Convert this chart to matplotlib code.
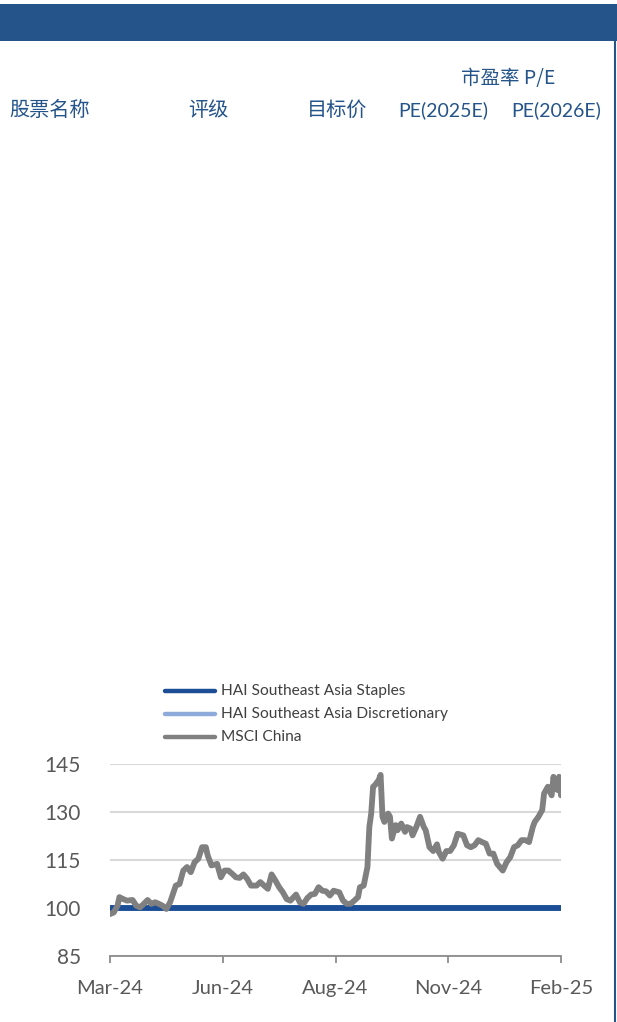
import matplotlib
matplotlib.use("Agg")
import matplotlib.pyplot as plt
from matplotlib.patches import Rectangle
from matplotlib.lines import Line2D

# 表头文字
header_cols = ["股票名称", "评级", "目标价", "PE(2025E)", "PE(2026E)"]
header_group = "市盈率 P/E"

# 走势数据（交易日序号, 指数, 起点=100）
day_index = [0, 2, 4, 5, 7, 9, 12, 14, 16, 18, 20, 22, 24, 26, 28, 30, 32, 35, 37, 39,
             41, 43, 45, 47, 49, 51, 52, 54, 57, 59, 61, 63, 65, 67, 69, 71, 73, 75, 78, 80,
             82, 84, 86, 88, 90, 92, 94, 96, 99, 101, 103, 105, 107, 109, 111, 113, 115, 117, 119, 122,
             124, 126, 128, 130, 132, 133, 135, 137, 138, 139, 140, 141, 143, 144, 145, 146, 148, 149, 150, 152,
             153, 155, 157, 158, 160, 161, 163, 165, 167, 168, 170, 172, 174, 175, 177, 179, 181, 183, 185, 188,
             190, 192, 194, 196, 198, 200, 202, 204, 206, 209, 211, 213, 215, 217, 219, 221, 223, 225, 226, 228,
             230, 231, 233, 235, 236, 237, 238, 239, 240]
msci_china = [98.1, 98.6, 100.7, 103.4, 102.8, 102.3, 102.5, 100.7, 100.2, 101.3, 102.5, 101.3, 101.8, 101.3, 100.7, 99.7, 101.8, 107.0, 107.5, 111.7,
              112.8, 111.2, 114.3, 115.4, 119.0, 119.0, 116.4, 113.3, 113.8, 109.6, 111.7, 111.7, 110.7, 109.6, 109.4, 110.5, 109.1, 107.0, 107.0, 108.1,
              107.0, 106.0, 110.5, 108.6, 106.5, 104.9, 102.8, 102.3, 104.2, 101.8, 101.3, 103.1, 104.2, 104.4, 106.5, 105.4, 105.2, 103.9, 105.4, 104.9,
              102.3, 101.3, 101.3, 102.3, 103.4, 106.5, 107.0, 112.8, 125.3, 129.5, 137.9, 138.4, 140.0, 141.6, 128.5, 126.9, 129.5, 128.5, 121.7, 125.9,
              124.3, 126.4, 123.8, 125.3, 124.8, 122.7, 125.3, 128.5, 125.3, 124.3, 119.0, 117.8, 119.9, 117.5, 115.4, 117.8, 117.8, 119.6, 123.2, 122.7,
              119.6, 119.0, 119.6, 121.2, 120.6, 120.1, 117.0, 117.0, 113.8, 111.7, 114.3, 115.9, 119.0, 119.6, 121.2, 121.2, 120.6, 125.3, 126.9, 128.5,
              130.6, 135.8, 137.9, 135.2, 141.0, 137.9, 136.9, 141.0, 135.2]
staples = [100.0] * len(day_index)
discretionary = [100.0] * len(day_index)

series_names = ["HAI Southeast Asia Staples", "HAI Southeast Asia Discretionary", "MSCI China"]
y_ticks = [85, 100, 115, 130, 145]
x_tick_pos = [0, 60, 120, 180, 240]
x_tick_labels = ["Mar-24", "Jun-24", "Aug-24", "Nov-24", "Feb-25"]

BLUE = "#24548a"
C_STAPLES = "#1c4e97"
C_DISC = "#8eaadb"
C_MSCI = "#808080"
TXT = "#595959"

W, H = 617, 1022
fig = plt.figure(figsize=(W / 100, H / 100), dpi=100)

# 顶部色条和右侧竖线
fig.add_artist(Rectangle((0, 1 - 41 / H), 1, 37 / H, transform=fig.transFigure,
                         facecolor=BLUE, edgecolor="none"))
fig.add_artist(Line2D([615 / W, 615 / W], [0, 1 - 41 / H], transform=fig.transFigure,
                      color=BLUE, lw=1.5))

cjk = ["Noto Sans CJK SC", "DejaVu Sans"]
lat = ["Lato", "DejaVu Sans"]
hy = 1 - 110 / H
fig.text(50 / W, hy, header_cols[0], family=cjk, fontsize=14.5, color=BLUE,
         ha="center", va="center")
fig.text(208 / W, hy, header_cols[1], family=cjk, fontsize=14.5, color=BLUE,
         ha="center", va="center")
fig.text(337 / W, hy, header_cols[2], family=cjk, fontsize=14.5, color=BLUE,
         ha="center", va="center")
fig.text(443 / W, hy, header_cols[3], family=lat, fontsize=14, color=BLUE,
         ha="center", va="center")
fig.text(556 / W, hy, header_cols[4], family=lat, fontsize=14, color=BLUE,
         ha="center", va="center")
fig.text(508 / W, 1 - 78 / H, header_group, family=cjk, fontsize=14, color=BLUE,
         ha="center", va="center")

# 折线图
ax = fig.add_axes([110 / W, 1 - 956 / H, 451 / W, 192 / H])
ax.plot(day_index, discretionary, color=C_DISC, lw=4.2, solid_capstyle="round", zorder=2)
ax.plot(day_index, staples, color=C_STAPLES, lw=4.2, solid_capstyle="round", zorder=3)
ax.plot(day_index, msci_china, color=C_MSCI, lw=4.2, solid_joinstyle="round",
        solid_capstyle="round", zorder=4)

ax.set_xlim(0, 240)
ax.set_ylim(85, 145)
ax.set_yticks(y_ticks)
ax.set_xticks(x_tick_pos)
ax.set_xticklabels(x_tick_labels)
for s in ["top", "right", "left"]:
    ax.spines[s].set_visible(False)
ax.spines["bottom"].set_color("#8c8c8c")
ax.spines["bottom"].set_linewidth(1.3)
ax.grid(axis="y", color="#d9d9d9", lw=1.5, zorder=0)
ax.set_axisbelow(True)
ax.tick_params(axis="y", length=0, pad=21, labelsize=15, labelcolor=TXT)
ax.tick_params(axis="x", length=5, width=1.3, color="#8c8c8c", pad=12,
               labelsize=14.5, labelcolor=TXT)
for lab in ax.get_xticklabels() + ax.get_yticklabels():
    lab.set_family(lat)

# 图例
legend_rows = [691, 714, 737]
for name, col, y in zip(series_names, [C_STAPLES, C_DISC, C_MSCI], legend_rows):
    fig.add_artist(Line2D([165 / W, 215 / W], [1 - y / H, 1 - y / H], transform=fig.transFigure,
                          color=col, lw=3.2, solid_capstyle="round"))
    fig.text(221 / W, 1 - y / H, name, family=lat, fontsize=11.2, color="#404040",
             ha="left", va="center")

fig.savefig("out.png", dpi=100)
